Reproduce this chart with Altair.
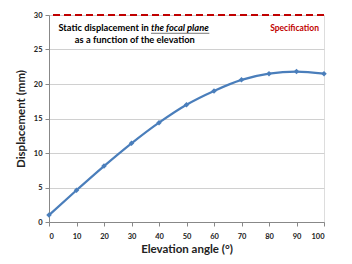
import altair as alt
import pandas as pd

angles = [0, 10, 20, 30, 40, 50, 60, 70, 80, 90, 100]
displacement = [1.0, 4.6, 8.1, 11.4, 14.4, 17.0, 19.0, 20.6, 21.5, 21.8, 21.5]
spec_value = 30
x_ticks = list(range(0, 101, 10))
y_ticks = [0, 5, 10, 15, 20, 25, 30]

df = pd.DataFrame({"angle": angles, "disp": displacement})
FONT = "Lato"

xs = alt.Scale(domain=[0, 100], nice=False, zero=False)
ys = alt.Scale(domain=[0, 30], nice=False)

xaxis = alt.Axis(values=x_ticks, title="Elevation angle (°)", grid=False,
                 domainColor="#888", tickColor="#888", tickSize=4,
                 labelFont=FONT, labelFontSize=7.5, labelFontWeight="bold", labelColor="#222",
                 titleFont=FONT, titleFontSize=11.5, titleFontWeight="bold", titleColor="#222",
                 titlePadding=4, labelPadding=6, labelOverlap=False)
yaxis = alt.Axis(values=y_ticks, title="Displacement (mm)", grid=True, gridColor="#d0d0d0",
                 domainColor="#888", tickColor="#888", tickSize=4,
                 labelFont=FONT, labelFontSize=7.5, labelFontWeight="bold", labelColor="#222",
                 titleFont=FONT, titleFontSize=11.5, titleFontWeight="bold", titleColor="#222",
                 titlePadding=7, labelPadding=3, labelOverlap=False)


def X(f):
    return alt.X(f, scale=xs, axis=xaxis)


def Y(f):
    return alt.Y(f, scale=ys, axis=yaxis)


base = alt.Chart(df)

line = base.mark_line(color="#4a7ebb", strokeWidth=2.2, interpolate="monotone").encode(
    x=X("angle:Q"), y=Y("disp:Q"))
points = base.mark_point(shape="diamond", filled=True, color="#4a7ebb", size=30, opacity=1).encode(
    x=X("angle:Q"), y=Y("disp:Q"))

spec = alt.Chart(pd.DataFrame({"y": [spec_value]})).mark_rule(
    color="#c00000", strokeWidth=2, strokeDash=[7, 4]).encode(y=Y("y:Q"))

ann = pd.DataFrame({
    "x": [36.3, 37.1, 31.2, 89.3],
    "y": [28.1, 28.1, 26.4, 28.1],
    "t": ["Static displacement in", "the focal plane", "as a function of the elevation", "Specification"],
})
t1 = alt.Chart(ann.iloc[[0]]).mark_text(align="right", baseline="middle", font=FONT, fontSize=9.3,
                                          fontWeight="bold", color="#000").encode(
    x=X("x:Q"), y=Y("y:Q"), text="t:N")
t2 = alt.Chart(ann.iloc[[1]]).mark_text(align="left", baseline="middle", font=FONT, fontSize=9.3,
                                          fontWeight="bold", fontStyle="italic", color="#000").encode(
    x=X("x:Q"), y=Y("y:Q"), text="t:N")
t3 = alt.Chart(ann.iloc[[2]]).mark_text(align="center", baseline="middle", font=FONT, fontSize=9.3,
                                          fontWeight="bold", color="#000").encode(
    x=X("x:Q"), y=Y("y:Q"), text="t:N")
t4 = alt.Chart(ann.iloc[[3]]).mark_text(align="center", baseline="middle", font=FONT, fontSize=8.5,
                                          fontWeight="bold", color="#c00000").encode(
    x=X("x:Q"), y=Y("y:Q"), text="t:N")
ul = alt.Chart(pd.DataFrame({"x": [37.1], "x2": [58.3], "y": [27.35]})).mark_rule(
    color="#555", strokeWidth=0.8).encode(
    x=X("x:Q"), x2="x2:Q", y=Y("y:Q"))

chart = alt.layer(line, spec, points, t1, t2, t3, t4, ul).properties(
    width=275, height=207,
    autosize=alt.AutoSizeParams(type="none"),
    padding={"left": 41, "top": 7, "right": 20, "bottom": 34},
).configure_view(stroke=None).configure(background="white")

chart.save("out.html", embed_options={"renderer": "svg", "actions": False})
